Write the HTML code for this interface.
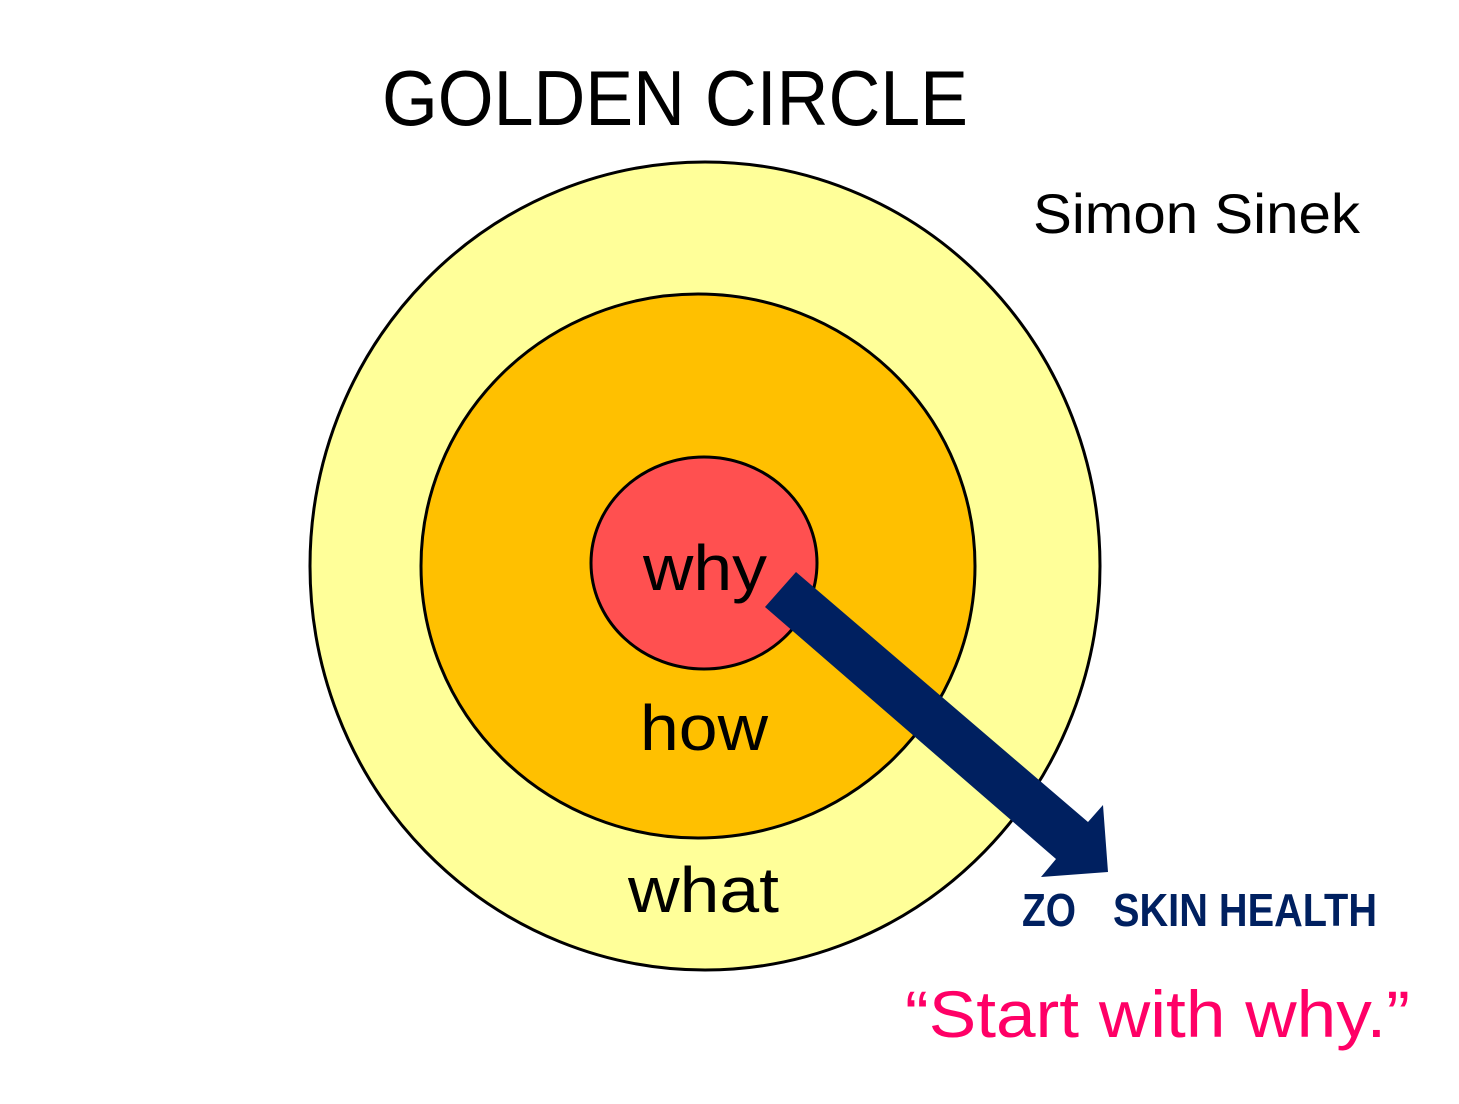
<!DOCTYPE html>
<html><head><meta charset="utf-8"><style>html,body{margin:0;padding:0;background:#fff}</style></head>
<body>
<svg width="1459" height="1104" viewBox="0 0 1459 1104" xmlns="http://www.w3.org/2000/svg" style="display:block">
<rect width="1459" height="1104" fill="#fff"/>
<ellipse cx="705" cy="566" rx="395" ry="404" fill="#FFFF99" stroke="#000" stroke-width="3"/>
<ellipse cx="698" cy="566" rx="277" ry="272" fill="#FFC000" stroke="#000" stroke-width="3"/>
<ellipse cx="704" cy="563" rx="113" ry="106" fill="#FF5050" stroke="#000" stroke-width="3"/>
<g font-family="Liberation Sans, sans-serif" fill="#000">
<text x="382" y="125" font-size="78" textLength="586" lengthAdjust="spacingAndGlyphs">GOLDEN CIRCLE</text>
<text x="1033" y="233" font-size="56" textLength="327" lengthAdjust="spacingAndGlyphs">Simon Sinek</text>
<text x="643" y="590" font-size="64" textLength="124" lengthAdjust="spacingAndGlyphs">why</text>
<text x="640" y="750" font-size="64" textLength="128" lengthAdjust="spacingAndGlyphs">how</text>
<text x="628" y="912" font-size="64" textLength="151" lengthAdjust="spacingAndGlyphs">what</text>
</g>
<polygon points="796,572 765,607 1056,859 1041,877 1108,872 1103,805 1088,822" fill="#002060"/>
<g font-family="Liberation Sans, sans-serif" font-weight="bold" fill="#002060" font-size="46">
<text x="1022" y="926" textLength="54" lengthAdjust="spacingAndGlyphs">ZO</text>
<text x="1113" y="926" textLength="264" lengthAdjust="spacingAndGlyphs">SKIN HEALTH</text>
</g>
<text x="905" y="1037" font-family="Liberation Sans, sans-serif" font-size="66" fill="#FF0066" textLength="505" lengthAdjust="spacingAndGlyphs">“Start with why.”</text>
</svg>
</body></html>
